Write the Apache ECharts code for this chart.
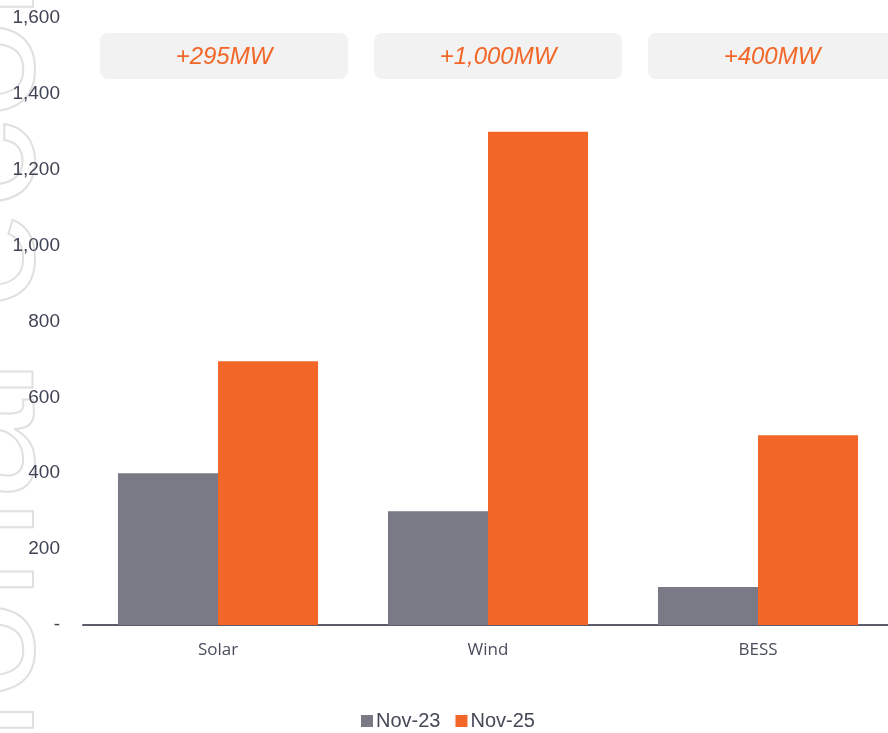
<!DOCTYPE html>
<html>
<head>
<meta charset="utf-8">
<script src="https://cdn.jsdelivr.net/npm/echarts@6/dist/echarts.min.js"></script>
<style>
  html, body { margin: 0; padding: 0; background: #ffffff; }
  #chart { width: 888px; height: 733px; }
</style>
</head>
<body>
<div id="chart"></div>
<script>
// Installed capacity (MW) by technology
const categories = ['Solar', 'Wind', 'BESS'];
const nov23 = [400, 300, 100];
const nov25 = [695, 1300, 500];
const seriesNames = ['Nov-23', 'Nov-25'];
const yTicks = { min: 0, max: 1600, interval: 200 };

const GREY = '#797a86';
const ORANGE = '#f26628';

// growth between the two snapshots, shown in the pill above each group
const growth = categories.map((c, i) => [i, nov25[i] - nov23[i]]);

const chart = echarts.init(document.getElementById('chart'));

chart.setOption({
  animation: false,
  backgroundColor: '#ffffff',
  graphic: [{
    type: 'text',
    silent: true,
    z: -10,
    x: 73,
    y: 990,
    rotation: Math.PI / 2,
    style: {
      text: 'national economy',
      font: '180px "Liberation Sans", Arial, sans-serif',
      fill: 'rgba(0,0,0,0)',
      stroke: '#e0e0e0',
      lineWidth: 2,
      verticalAlign: 'bottom'
    }
  }],
  // the plot runs a little past the right edge of the canvas
  grid: { left: 83, width: 810, top: 18, bottom: 108, containLabel: false, outerBoundsMode: 'none' },
  legend: {
    data: seriesNames,
    bottom: -3,
    left: 356,
    itemWidth: 12,
    itemHeight: 12,
    itemGap: 15,
    icon: 'rect',
    textStyle: { fontFamily: '"Liberation Sans", Arial, sans-serif', fontSize: 20, color: '#454857', padding: [0, 0, 0, -2] }
  },
  xAxis: {
    type: 'category',
    data: categories,
    axisTick: { show: false },
    axisLine: { lineStyle: { color: '#5b5d6b', width: 2 } },
    axisLabel: { fontFamily: '"Open Sans", sans-serif', fontSize: 17, color: '#4a4d5b', margin: 17 }
  },
  yAxis: {
    type: 'value',
    min: yTicks.min,
    max: yTicks.max,
    interval: yTicks.interval,
    splitLine: { show: false },
    axisLine: { show: false },
    axisTick: { show: false },
    axisLabel: {
      fontFamily: '"Liberation Sans", Arial, sans-serif',
      fontSize: 19,
      color: '#414455',
      margin: 23,
      formatter: v => v === 0 ? '-' : v.toLocaleString('en-US')
    }
  },
  series: [
    {
      name: seriesNames[0],
      type: 'bar',
      data: nov23,
      barGap: '0%',
      barCategoryGap: '25.9%',
      itemStyle: { color: GREY }
    },
    {
      name: seriesNames[1],
      type: 'bar',
      data: nov25,
      itemStyle: { color: ORANGE }
    },
    {
      name: 'growth',
      type: 'custom',
      data: growth,
      z: 1,
      silent: true,
      renderItem: (params, api) => {
        const p = api.coord([api.value(0), 0]);
        const cx = p[0] + 6 + api.value(0) * 4;
        return {
          type: 'group',
          children: [
            {
              type: 'rect',
              shape: { x: cx - 124, y: 33, width: 248, height: 46, r: 8 },
              style: { fill: '#f2f2f2' }
            },
            {
              type: 'text',
              style: {
                text: '+' + api.value(1).toLocaleString('en-US') + 'MW',
                x: cx,
                y: 57,
                align: 'center',
                verticalAlign: 'middle',
                font: 'italic 24px "Liberation Sans", Arial, sans-serif',
                fill: ORANGE
              }
            }
          ]
        };
      }
    }
  ]
});
</script>
</body>
</html>
